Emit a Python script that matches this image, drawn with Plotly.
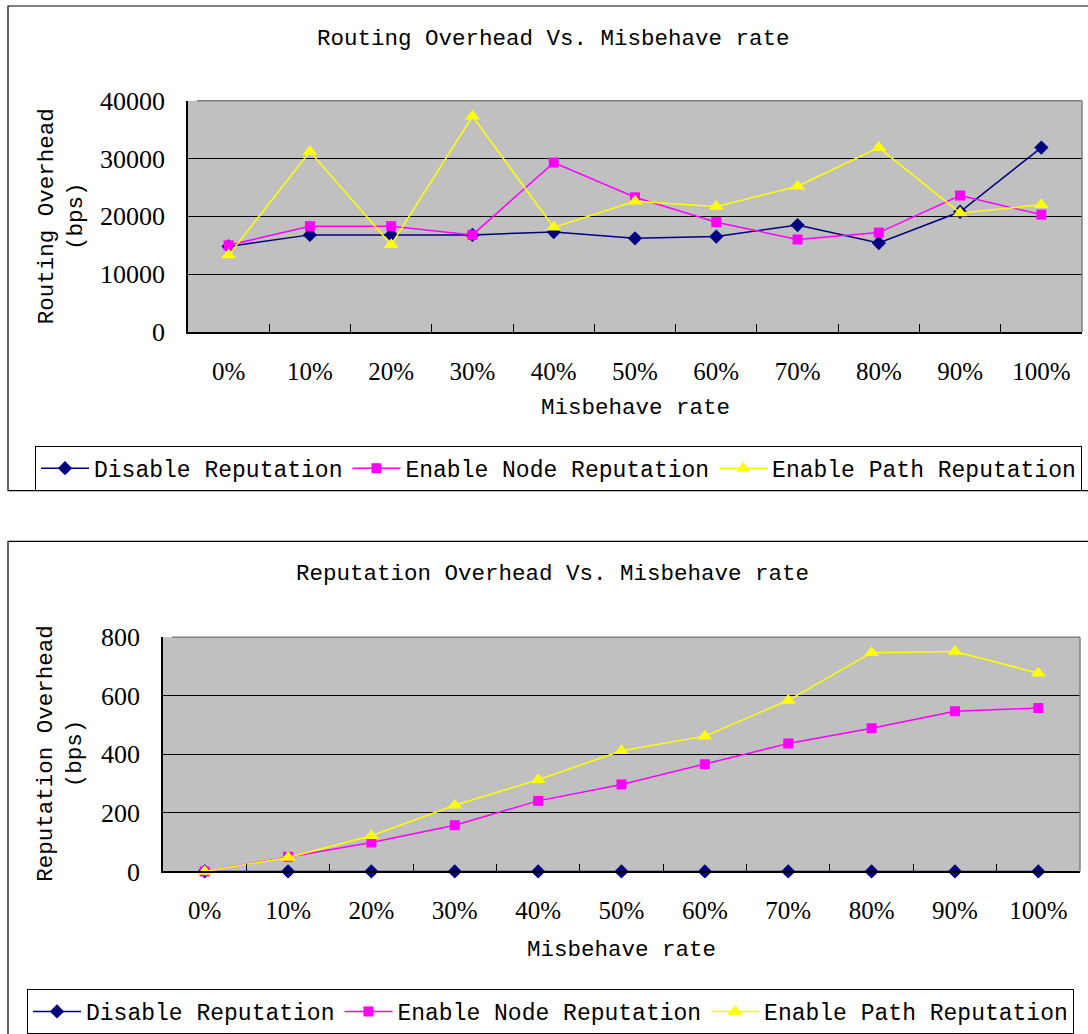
import plotly.graph_objects as go

# Misbehave rate categories shared by both charts
categories = ["0%", "10%", "20%", "30%", "40%", "50%", "60%", "70%", "80%", "90%", "100%"]

# Routing overhead (bps)
routing_disable = [14800, 16800, 16800, 16800, 17300, 16200, 16500, 18500, 15400, 20800, 31900]
routing_node = [15000, 18300, 18300, 16800, 29300, 23300, 19000, 16000, 17200, 23600, 20300]
routing_path = [13300, 31200, 15100, 37300, 18100, 22600, 21700, 25200, 31900, 20600, 22000]

# Reputation overhead (bps)
rep_disable = [0, 0, 0, 0, 0, 0, 0, 0, 0, 0, 0]
rep_node = [0, 50, 99, 158, 241, 297, 366, 437, 489, 547, 558]
rep_path = [0, 48, 122, 226, 313, 412, 462, 584, 747, 751, 677]

series_names = ["Disable Reputation", "Enable Node Reputation", "Enable Path Reputation"]

W, H = 1088, 1034
TEXT_FONT = "Liberation Mono"
NUM_FONT = "Liberation Serif"


def px(x):
    return x / W


def py(y):
    return 1 - y / H


styles = [
    dict(color="#000080", symbol="diamond", size=11),
    dict(color="#FF00FF", symbol="square", size=10),
    dict(color="#FFFF00", symbol="triangle-up", size=13),
]

fig = go.Figure()


def add_series(values, idx, xa, ya, legend):
    st = styles[idx]
    fig.add_trace(go.Scatter(
        x=categories, y=values, name=series_names[idx],
        mode="lines+markers", xaxis=xa, yaxis=ya, legend=legend,
        cliponaxis=False,
        line=dict(color=st["color"], width=1.5),
        marker=dict(color=st["color"], symbol=st["symbol"], size=st["size"],
                    line=dict(width=0)),
    ))


for i, vals in enumerate([routing_disable, routing_node, routing_path]):
    add_series(vals, i, "x", "y", "legend")
for i, vals in enumerate([rep_disable, rep_node, rep_path]):
    add_series(vals, i, "x2", "y2", "legend2")

top_dom_x = [px(188), px(1082)]
top_dom_y = [py(333), py(101)]
bot_dom_x = [px(163), px(1080)]
bot_dom_y = [py(874), py(639)]

xaxis_common = dict(
    type="category", range=[-0.5, 10.5], tickson="boundaries",
    ticks="inside", ticklen=8, tickcolor="#000000", tickwidth=1,
    showline=True, linecolor="#000000", linewidth=1.5,
    showgrid=False, zeroline=False, automargin=False,
    tickfont=dict(family=NUM_FONT, size=25, color="#000000"),
    ticklabelstandoff=16,
)
yaxis_common = dict(
    ticks="inside", ticklen=8, tickcolor="#000000", tickwidth=1,
    showline=True, linecolor="#000000", linewidth=1.5,
    showgrid=True, gridcolor="#000000", gridwidth=1,
    zeroline=False, automargin=False, tickformat="d",
    tickfont=dict(family=NUM_FONT, size=26, color="#000000"),
    ticklabelstandoff=16,
)

legend_common = dict(
    orientation="h", xanchor="left", yanchor="top",
    bgcolor="#FFFFFF", bordercolor="#000000", borderwidth=1,
    font=dict(family=TEXT_FONT, size=23, color="#000000"),
    itemwidth=48,
)

fig.update_layout(
    width=W, height=H, autosize=False,
    margin=dict(l=0, r=0, t=0, b=0),
    paper_bgcolor="#FFFFFF", plot_bgcolor="#C0C0C0",
    xaxis=dict(domain=top_dom_x, anchor="y", **xaxis_common),
    yaxis=dict(domain=top_dom_y, anchor="x", range=[0, 40000], dtick=10000, **yaxis_common),
    xaxis2=dict(domain=bot_dom_x, anchor="y2", **xaxis_common),
    yaxis2=dict(domain=bot_dom_y, anchor="x2", range=[0, 800], dtick=200, **yaxis_common),
    legend=dict(x=px(35), y=py(447), **legend_common),
    legend2=dict(x=px(27), y=py(992), **legend_common),
)

# chart frames
fig.add_shape(type="rect", xref="paper", yref="paper",
              x0=px(8), x1=px(1100), y0=py(492), y1=py(6),
              line=dict(color="#000000", width=1.2), layer="below")
fig.add_shape(type="rect", xref="paper", yref="paper",
              x0=px(8), x1=px(1100), y0=py(1050), y1=py(543),
              line=dict(color="#000000", width=1.2), layer="below")

# grey top/right borders of both plot areas
for xd, yd in [(top_dom_x, top_dom_y), (bot_dom_x, bot_dom_y)]:
    fig.add_shape(type="line", xref="paper", yref="paper",
                  x0=xd[0] + px(9), x1=xd[1], y0=yd[1], y1=yd[1],
                  line=dict(color="#808080", width=1.5))
    fig.add_shape(type="line", xref="paper", yref="paper",
                  x0=xd[1], x1=xd[1], y0=yd[0], y1=yd[1],
                  line=dict(color="#808080", width=1.5))

title_font = dict(family=TEXT_FONT, size=22.5, color="#000000")
annotations = [
    dict(text="Routing Overhead Vs. Misbehave rate", x=px(553), y=py(39)),
    dict(text="Misbehave rate", x=px(635), y=py(409)),
    dict(text="Reputation Overhead Vs. Misbehave rate", x=px(552), y=py(576)),
    dict(text="Misbehave rate", x=px(621), y=py(953)),
]
for a in annotations:
    fig.add_annotation(xref="paper", yref="paper", xanchor="center", yanchor="middle",
                       showarrow=False, font=title_font, **a)

fig.add_annotation(text="Routing Overhead<br>(bps)", xref="paper", yref="paper",
                   x=px(61), y=py(217), xanchor="center", yanchor="middle",
                   textangle=-90, showarrow=False, font=title_font)
fig.add_annotation(text="Reputation Overhead<br>(bps)", xref="paper", yref="paper",
                   x=px(61), y=py(756), xanchor="center", yanchor="middle",
                   textangle=-90, showarrow=False, font=title_font)

fig.write_html("out.html")
